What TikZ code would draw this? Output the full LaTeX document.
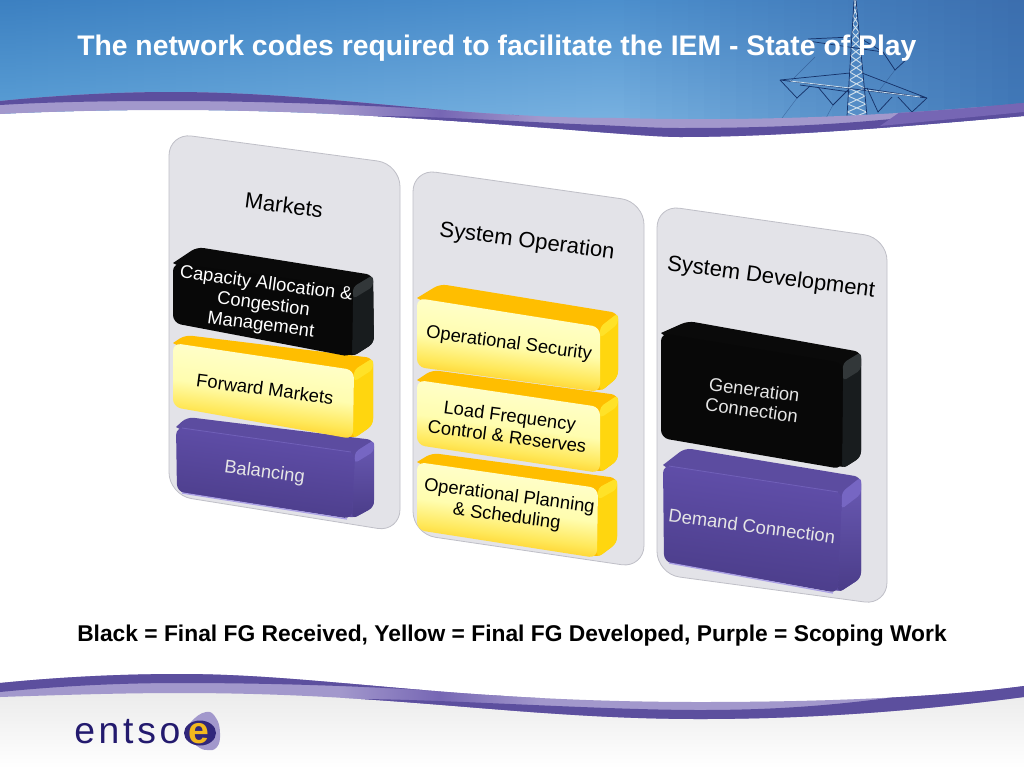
\documentclass[tikz,border=0pt]{standalone}
\usepackage{fontspec}
\setmainfont{Liberation Sans}
\newfontfamily\logofont[LetterSpace=10]{Liberation Sans}
\usetikzlibrary{calc}
\definecolor{ltT}{HTML}{3C80C1}
\definecolor{ltB}{HTML}{5FA3D8}
\definecolor{mdT}{HTML}{4C8FCD}
\definecolor{mdB}{HTML}{7DB5E2}
\definecolor{rtT}{HTML}{3B6DAD}
\definecolor{rtB}{HTML}{3F78B8}
\definecolor{bandDark}{HTML}{5C4F9E}
\definecolor{bandLight}{HTML}{A298CC}
\definecolor{bandMid}{HTML}{7666B4}
\definecolor{panelFill}{HTML}{E3E3E8}
\definecolor{panelLine}{HTML}{BFBFC7}
\definecolor{logoNavy}{HTML}{231A6E}
\definecolor{yelO}{RGB}{255,190,0}
\definecolor{yelM}{RGB}{255,232,90}
\definecolor{yelP}{RGB}{255,253,175}
\definecolor{yelQ}{RGB}{255,255,212}
\pgfdeclareverticalshading{yelshade}{100bp}{color(0bp)=(yelO); color(25bp)=(yelO); color(38bp)=(yelM); color(50bp)=(yelP); color(75bp)=(yelQ); color(100bp)=(yelQ)}
\tikzset{
 panelbox/.style={fill=panelFill,draw=panelLine,line width=0.6pt,rounded corners=17pt},
 paneltitle/.style={font=\fontsize{16.5pt}{19pt}\selectfont,rotate=-7.5,text=black,align=center,inner sep=0pt},
 blocktext/.style={font=\fontsize{13.8pt}{15.5pt}\selectfont,rotate=-7.5,align=center,inner sep=0pt},
 blktop/.style={fill=black!96},
 blkfront/.style={fill=black!97},
 blkside/.style={fill={rgb,255:red,24;green,28;blue,30}},
 blkbevel/.style={fill={rgb,255:red,50;green,55;blue,57}},
 blkedge/.style={draw=none},
 blkline/.style={draw=none},
 yeltop/.style={fill=yelO},
 yelfront/.style={shading=yelshade,shading angle=-7.5},
 yelside/.style={fill={rgb,255:red,255;green,214;blue,15}},
 yelbevel/.style={fill={rgb,255:red,255;green,226;blue,40}},
 yeledge/.style={draw=none},
 yelline/.style={draw=none},
 purtop/.style={fill={rgb,255:red,92;green,76;blue,160}},
 purfront/.style={top color={rgb,255:red,98;green,80;blue,172},bottom color={rgb,255:red,74;green,60;blue,136},shading angle=-7.5},
 purside/.style={top color={rgb,255:red,106;green,90;blue,180},bottom color={rgb,255:red,74;green,60;blue,136}},
 purbevel/.style={fill={rgb,255:red,118;green,102;blue,195}},
 puredge/.style={draw={rgb,255:red,170;green,160;blue,228},line width=1pt},
 purline/.style={draw={rgb,255:red,112;green,96;blue,184},line width=0.6pt},
 towerline/.style={draw={rgb,255:red,22;green,50;blue,105},line width=0.55pt},
 towerpale/.style={draw={rgb,255:red,205;green,222;blue,235},line width=0.7pt},
 towerwire/.style={draw={rgb,255:red,40;green,75;blue,130},line width=0.3pt,opacity=0.6},
}
% #1 kind; #2 FTL #3 BL #4 BR #5 FTR #6 FBR #7 RB #8 FBL
\newcommand\blockshape[8]{%
 \path[#1top] #2 [rounded corners=5pt] -- #3 -- #4 -- #7 -- #6 [sharp corners] -- cycle;
 \path[#1side,rounded corners=4pt] #5 -- #4 -- #7 -- #6 -- cycle;
 \path[#1bevel,rounded corners=3pt] #5 -- #4 -- ($#4!0.17!#7$) -- ($#5!0.17!#6$) -- cycle;
 \path[#1front,rounded corners=6pt] #2 -- #5 -- #6 -- #8 -- cycle;
 \path[#1edge] ($#8+(5,1)$) -- ($#6+(-5,0)$);
 \path[#1line] ($#2+(6,1)$) -- ($#5+(-4,0)$);
}
\newcommand\hdrtop{(0,101) .. controls (60,95) and (120,92) .. (170,92) .. controls (330,92) and (440,118) .. (620,118) .. controls (760,122) and (900,115) .. (1024,103)}
\newcommand\hdrbot{(1024,116) .. controls (900,127) and (780,137) .. (680,137) .. controls (620,137) and (400,110) .. (170,110) .. controls (100,110) and (40,112) .. (0,114)}
\newcommand\ftrtop{(0,683) .. controls (60,677) and (120,674) .. (180,674) .. controls (320,674) and (450,702) .. (700,702) .. controls (830,702) and (940,697) .. (1024,686)}
\newcommand\ftrbot{(1024,697) .. controls (940,708) and (830,719) .. (700,719) .. controls (520,719) and (400,693) .. (180,693) .. controls (120,693) and (60,695) .. (0,697)}
\begin{document}
\begin{tikzpicture}[x=0.75pt,y=-0.75pt]
\useasboundingbox (0,0) rectangle (1024,768);
\fill[white] (0,0) rectangle (1024,768);
% header sky, column by column
\foreach \i in {0,...,63}{
  \pgfmathtruncatemacro{\xa}{\i*16}
  \pgfmathtruncatemacro{\xb}{\xa+17}
  \ifnum\xa<600
    \pgfmathtruncatemacro{\p}{\xa/6}
    \path[top color=mdT!\p!ltT,bottom color=mdB!\p!ltB] (\xa,0) rectangle (\xb,132);
  \else
    \pgfmathtruncatemacro{\p}{(\xa-600)/4.24}
    \path[top color=rtT!\p!mdT,bottom color=rtB!\p!mdB] (\xa,0) rectangle (\xb,132);
  \fi
}
% tower
\foreach \y in {0,8,...,112}{
  \pgfmathsetmacro{\la}{854-7*\y/116}
  \pgfmathsetmacro{\ra}{856+11*\y/116}
  \pgfmathsetmacro{\lb}{854-7*(\y+8)/116}
  \pgfmathsetmacro{\rb}{856+11*(\y+8)/116}
  \pgfmathsetmacro{\yb}{\y+8}
  \draw[towerpale] (\la,\y) -- (\rb,\yb) (\ra,\y) -- (\lb,\yb);
}
\draw[towerline] (854,0) -- (847,116) (856,0) -- (867,116);
\draw[towerline] (808,39) -- (851,37) (860,38) -- (883,52) (808,41) -- (883,52);
\draw[towerline] (780,80) -- (850,73) (862,73) -- (927,98) (780,80) -- (927,98) (800,85) -- (850,92) (862,88) -- (927,98);
\draw[towerpale,line width=0.6pt] (790,81) -- (850,88) (866,90) -- (920,97);
\draw[towerline] (780,80) -- (797,98) -- (810,86);
\draw[towerline] (818,87) -- (833,105) -- (848,90);
\draw[towerline] (867,88) -- (878,112) -- (892,97);
\draw[towerline] (898,97) -- (912,112) -- (927,98);
\draw[towerline] (883,52) -- (895,70) -- (908,58);
\draw[towerwire] (797,98) -- (782,118) (833,105) -- (826,118) (895,70) -- (878,92) (815,57) -- (790,82);
% title
\node[anchor=base west,text=white,inner sep=0pt,font=\fontsize{21.25pt}{24pt}\selectfont\bfseries] (title) at (77,55) {The network codes required to facilitate the IEM - State of Play};
% footer ground
\path[top color=black!9,bottom color=white] (0,680) rectangle (1024,768);
\path[fill=white] \ftrtop -- (1024,660) -- (0,660) -- cycle;
% header: white below band
\path[fill=white] \hdrbot -- (0,140) -- (1024,140) -- cycle;
\path[fill=bandLight] \hdrtop -- \hdrbot -- cycle;
\begin{scope}
 \clip \hdrtop -- \hdrbot -- cycle;
 \path[left color=bandLight,right color=bandMid] (330,90) rectangle (440,140);
 \path[left color=bandMid,right color=bandLight] (440,90) rectangle (540,140);
 \path[fill=bandDark] (0,105) .. controls (50,102) and (100,101) .. (170,101) .. controls (260,101) and (390,105) .. (519,115.3) -- (519,80) -- (0,80) -- cycle;
 \path[fill=bandDark] (370,116) .. controls (440,116) and (540,123) .. (600,125) .. controls (640,127) and (660,128) .. (680,128) .. controls (780,128) and (900,124) .. (1024,100) -- (1024,150) -- (370,150) -- cycle;
 \path[fill=bandMid] (900,112) -- (1024,100) -- (1024,112) -- (880,126) -- cycle;
\end{scope}
% footer band
\path[fill=bandLight] \ftrtop -- \ftrbot -- cycle;
\begin{scope}
 \clip \ftrtop -- \ftrbot -- cycle;
 \path[left color=bandLight,right color=bandMid] (340,670) rectangle (440,725);
 \path[left color=bandMid,right color=bandLight] (440,670) rectangle (540,725);
 \path[fill=bandDark] (0,692) .. controls (50,687) and (110,683) .. (180,683) .. controls (270,683) and (390,686) .. (503,696) -- (503,660) -- (0,660) -- cycle;
 \path[fill=bandDark] (355,699) .. controls (440,699) and (600,710) .. (700,710) .. controls (800,710) and (880,702) .. (1000,680) -- (1024,680) -- (1024,730) -- (355,730) -- cycle;
\end{scope}
% logo
\path[fill=bandLight] plot[smooth cycle,tension=0.8] coordinates {(206,712) (216,718) (220,733) (217,747) (207,750) (197,746) (186,735) (191,722)};
\path[fill=logoNavy!75!bandDark] (200,733) ellipse [x radius=16,y radius=12.5];
\node[anchor=base west,inner sep=0pt,text=logoNavy,font=\logofont\fontsize{28pt}{30pt}\selectfont] (logoA) at (74,743) {entso};
\node[anchor=base west,inner sep=0pt,text={rgb,255:red,242;green,184;blue,30},font=\fontsize{28pt}{30pt}\selectfont\bfseries] (logoB) at (188.5,743) {e};
% panels
\path[panelbox] (169,133) -- (400,164) -- (400,532) -- (169,495) -- cycle;
\path[panelbox] (413,169) -- (644,202) -- (644,568) -- (413,534) -- cycle;
\path[panelbox] (657,205) -- (887,238) -- (887,605) -- (657,574) -- cycle;
% Markets
\node[paneltitle] (tMarkets) at (284,205) {Markets};
\blockshape{pur}{(176,427)}{(187,417)}{(374,440)}{(355,452)}{(352,519)}{(374,507)}{(177,492)}
\blockshape{yel}{(173,343)}{(185,335)}{(373,358)}{(354,370)}{(353,439)}{(373,425)}{(173,407)}
\blockshape{blk}{(173,263)}{(197,247)}{(373,275)}{(353,287)}{(352,357)}{(374,343)}{(173,323)}
\node[blocktext,text=white] (bCapacity) at (263.5,305) {Capacity Allocation \&\\Congestion\\Management};
\node[blocktext,text=black] (bForward) at (265,389) {Forward Markets};
\node[blocktext,text=white!90!black] (bBalancing) at (264.5,473) {Balancing};
% System Operation
\node[paneltitle] (tSysOp) at (527,242) {System Operation};
\blockshape{yel}{(417,462)}{(432,453)}{(617,478)}{(598,488)}{(597,558)}{(617,543)}{(417,530)}
\blockshape{yel}{(417,380)}{(432,370)}{(618,395)}{(600,407)}{(600,473)}{(618,460)}{(417,445)}
\blockshape{yel}{(417,298)}{(440,284)}{(618,313)}{(600,327)}{(600,392)}{(618,377)}{(417,367)}
\node[blocktext,text=black] (bOpSec) at (509,344) {Operational Security};
\node[blocktext,text=black] (bLoad) at (508.5,426) {Load Frequency\\Control \& Reserves};
\node[blocktext,text=black] (bPlan) at (508,507) {Operational Planning\\\& Scheduling};
% System Development
\node[paneltitle] (tSysDev) at (771,278) {System Development};
\blockshape{pur}{(663,465)}{(685,448)}{(861,477)}{(842,492)}{(838,593)}{(861,578)}{(664,562)}
\blockshape{blk}{(661,333)}{(688,321)}{(861,352)}{(843,363)}{(842,469)}{(861,457)}{(661,438)}
\node[blocktext,text=white!90!black] (bGen) at (753,400) {Generation\\Connection};
\node[blocktext,text=white!90!black] (bDemand) at (752,526) {Demand Connection};
% legend
\node[anchor=base west,inner sep=0pt,font=\fontsize{17.1pt}{20pt}\selectfont\bfseries] (legend) at (77,641) {Black = Final FG Received, Yellow = Final FG Developed, Purple = Scoping Work};
\end{tikzpicture}
\end{document}
